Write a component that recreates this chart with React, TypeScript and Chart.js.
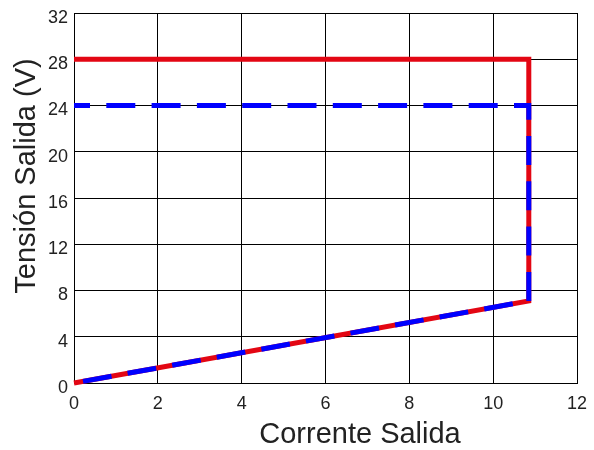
import React, { useEffect, useRef } from "react";
import { Chart, registerables } from "chart.js";

Chart.register(...registerables);

const xTicks = [0, 2, 4, 6, 8, 10, 12];
const yTicks = [0, 4, 8, 12, 16, 20, 24, 28, 32];
const redX = [0, 10.85, 10.85, 0];
const redY = [0, 7.1, 28, 28];
const blueX = [0, 10.85, 10.85, 0];
const blueY = [24, 24, 7.1, 0];
const xTitle = "Corrente Salida";
const yTitle = "Tensión Salida (V)";

const FONT = "'Liberation Sans', Arial, Helvetica, sans-serif";

export default function App() {
  const ref = useRef<HTMLCanvasElement | null>(null);
  useEffect(() => {
    document.body.style.margin = "0";
    const titles = {
      id: "axisTitles",
      afterDraw(chart: any) {
        const ctx = chart.ctx;
        ctx.save();
        ctx.fillStyle = "#222";
        ctx.font = `29px ${FONT}`;
        ctx.textAlign = "center";
        ctx.textBaseline = "alphabetic";
        ctx.fillText(xTitle, 360, 443);
        ctx.translate(35, 176);
        ctx.rotate(-Math.PI / 2);
        ctx.fillText(yTitle, 0, 0);
        ctx.restore();
      },
    };
    const chart = new Chart(ref.current!, {
      type: "line",
      data: {
        datasets: [
          {
            data: blueX.map((x, i) => ({ x, y: blueY[i] })),
            borderColor: "#0000ff",
            borderWidth: 5,
            borderDash: [29, 16.3],
            borderDashOffset: 13,
            pointRadius: 0,
            fill: false,
            tension: 0,
          },
          {
            data: redX.map((x, i) => ({ x, y: redY[i] })),
            borderColor: "#e30613",
            borderWidth: 5,
            pointRadius: 0,
            fill: false,
            tension: 0,
          },
        ],
      },
      plugins: [titles],
      options: {
        animation: false,
        responsive: false,
        clip: false as any,
        layout: { padding: { left: 0, right: 17, top: 13, bottom: 0 } },
        plugins: { legend: { display: false }, tooltip: { enabled: false } },
        scales: {
          x: {
            type: "linear",
            min: 0,
            max: 12,
            afterBuildTicks: (s: any) => {
              s.ticks = xTicks.map((v) => ({ value: v }));
            },
            afterFit: (s: any) => {
              s.height = 67;
              s.paddingLeft = 0;
              s.paddingRight = 0;
            },
            grid: { color: "#000", lineWidth: 1, drawTicks: false },
            border: { color: "#000", width: 1 },
            ticks: { color: "#222", font: { family: FONT, size: 18 }, padding: 10, maxRotation: 0 },
          },
          y: {
            type: "linear",
            min: 0,
            max: 32,
            afterBuildTicks: (s: any) => {
              s.ticks = yTicks.map((v) => ({ value: v }));
            },
            afterFit: (s: any) => {
              s.width = 74;
              s.paddingTop = 0;
              s.paddingBottom = 0;
            },
            grid: { color: "#000", lineWidth: 1, drawTicks: false },
            border: { color: "#000", width: 1 },
            ticks: { color: "#222", font: { family: FONT, size: 18 }, padding: 6, labelOffset: 5 },
          },
        },
      },
    });
    return () => chart.destroy();
  }, []);
  return (
    <div style={{ width: 594, height: 450 }}>
      <canvas ref={ref} width={594} height={450} style={{ display: "block" }} />
    </div>
  );
}
